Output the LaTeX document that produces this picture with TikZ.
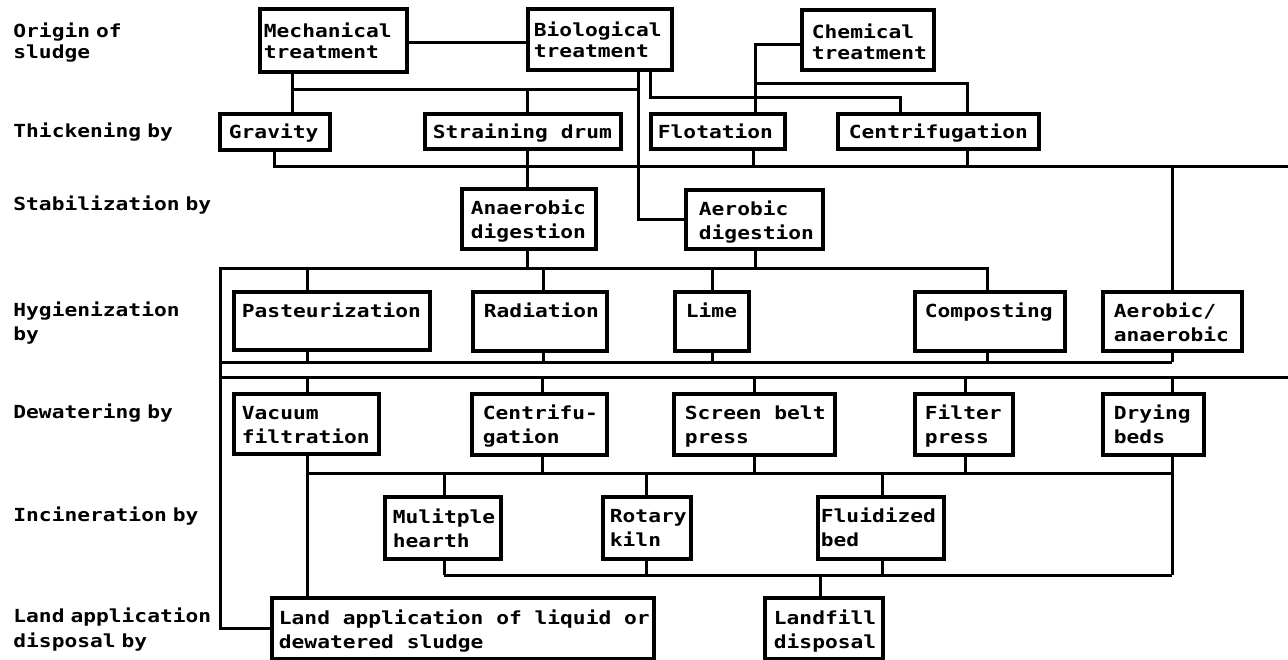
\documentclass[tikz,border=0pt]{standalone}
\usepackage{fontspec}
\newfontfamily\tw{DejaVu Sans Mono}[FakeStretch=1.18]

% box geometry keys: first baseline below the top, left padding, line pitch
\pgfkeys{/bx/.cd,
  t/.store in=\bxT,
  pad/.store in=\bxpad,
  bs/.store in=\bxbs}

\tikzset{
  box/.style={draw, line width=1.9pt, inner sep=0pt, font=\tw\bfseries\fontsize{9}{12}\selectfont},
  wire/.style={line width=1.5pt, line join=miter},
  lbl/.style={anchor=base west, inner sep=0pt, text width=110pt, align=left,
              font=\tw\bfseries\fontsize{9}{12}\selectfont}
}

% \bx[keys]{name}{x1}{y1}{x2}{y2}{text}: a box with its corners in pixel units
\newcommand\bx[7][]{%
  \pgfkeys{/bx/.cd, t=13pt, pad=4.5pt, bs=12pt, #1}%
  \pgfmathsetlengthmacro\bxw{(#5-#3)*0.5pt}%
  \pgfmathsetlengthmacro\bxh{(#6-#4)*0.5pt}%
  \node[box, anchor=north west] (#2) at (#3,#4)
    {\vbox to \bxh{\hsize=\bxw\relax\leftskip=\bxpad\relax
      \rightskip=0pt plus 1fil\relax\parindent=0pt\relax
      \parfillskip=0pt plus 1fil\relax\baselineskip=\bxbs\relax
      \let\\\par\rule{0pt}{\bxT}#7\par\vss}};%
}

\begin{document}
\begin{tikzpicture}[x=0.5pt, y=-0.5pt]
\path[fill=white, use as bounding box] (0,0) rectangle (1288,659);

% ---- row captions
\node[lbl, font=\tw\bfseries\fontsize{9}{10.5}\selectfont] (capOrigin) at (13,37) {Origin of\\sludge};
\node[lbl] (capThick) at (13,137) {Thickening by};
\node[lbl] (capStab) at (13,210) {Stabilization by};
\node[lbl] (capHyg) at (13,316) {Hygienization\\by};
\node[lbl] (capDew) at (13,418) {Dewatering by};
\node[lbl] (capInc) at (13,521) {Incineration by};
\node[lbl, font=\tw\bfseries\fontsize{9}{12.5}\selectfont] (capLand) at (13,622) {Land application\\disposal by};

% ---- origin of sludge
\bx[t=14.25pt,bs=10.5pt,pad=2pt]{mech}{258}{7}{405}{70}{Mechanical\\treatment}
\bx[t=14pt,bs=10.5pt,pad=3pt]{bio}{526}{7}{670}{68}{Biological\\treatment}
\bx[t=14.5pt,bs=10.5pt,pad=5pt]{chem}{800}{8}{932}{68}{Chemical\\treatment}

% ---- thickening
\bx[t=12.5pt,pad=4.5pt]{grav}{218}{112}{328}{148}{Gravity}
\bx[t=12.5pt,pad=4pt]{strain}{423}{112}{619}{147}{Straining drum}
\bx[t=12.5pt,pad=3.5pt]{flot}{649}{112}{783}{147}{Flotation}
\bx[t=12.5pt,pad=5.5pt]{cenT}{836}{112}{1037}{147}{Centrifugation}

% ---- stabilization
\bx[pad=4.5pt]{anaer}{460}{187}{594}{247}{Anaerobic\\digestion}
\bx[pad=6.5pt]{aer}{684}{188}{821}{247}{Aerobic\\digestion}

% ---- hygienization
\bx[pad=4pt]{past}{232}{290}{428}{348}{Pasteurization}
\bx[pad=5.5pt]{rad}{471}{290}{605}{349}{Radiation}
\bx[pad=5.5pt]{lime}{673}{290}{747}{349}{Lime}
\bx[pad=5pt]{comp}{913}{290}{1063}{349}{Composting}
\bx[pad=5.5pt]{aeran}{1101}{290}{1240}{349}{Aerobic/\\anaerobic}

% ---- dewatering
\bx[pad=4pt]{vac}{232}{392}{377}{452}{Vacuum\\filtration}
\bx[pad=5.5pt]{cenD}{470}{392}{605}{453}{Centrifu-\\gation}
\bx[pad=5.5pt]{sbp}{672}{392}{833}{453}{Screen belt\\press}
\bx[pad=5pt]{fp}{913}{392}{1011}{453}{Filter\\press}
\bx[pad=5.5pt]{dry}{1101}{392}{1202}{453}{Drying\\beds}

% ---- incineration
\bx[t=13.5pt,pad=4pt]{mh}{383}{495}{499}{557}{Mulitple\\hearth}
\bx[pad=3.5pt]{rk}{601}{495}{689}{557}{Rotary\\kiln}
\bx[pad=1.5pt]{fb}{816}{495}{942}{557}{Fluidized\\bed}

% ---- land application / disposal
\bx[t=13.5pt,pad=3.5pt]{landapp}{270}{596}{652}{657}{Land application of liquid or\\dewatered sludge}
\bx[t=13.5pt,pad=4.5pt]{lf}{763}{596}{881}{657}{Landfill\\disposal}

% ---- junction points and bus ends
\coordinate (jA) at (292,89);
\coordinate (busA) at (1288,166);
\coordinate (trunk) at (220,268);
\coordinate (hb) at (220,362);
\coordinate (db) at (220,377);
\coordinate (busB) at (1288,377);
\coordinate (ib) at (307,473);
\coordinate (lb) at (444,575);

% origin -> thickening
\draw[wire] ([yshift=-1.25pt]mech.east) -- ([yshift=-1.25pt]mech.east -| bio.west);
\draw[wire] (mech.south -| jA) -- (grav.north -| jA);
\draw[wire] (jA) -- (jA -| 638,0);
\draw[wire] (strain.north -| 527,0) -- (jA -| 527,0);
\draw[wire] (bio.south -| 638,0) |- (aer.west);
\draw[wire] (bio.south -| 650,0) -- (650,97) -| (cenT.north -| 900,0);
\draw[wire] ([yshift=-2.5pt]chem.west) -| (flot.north -| 755,0);
\draw[wire] (755,83) -| (cenT.north -| 967,0);

% thickening -> stabilization
\draw[wire] (grav.south -| 274,0) |- (busA);
\draw[wire] (strain.south -| 527,0) -- (anaer.north -| 527,0);
\draw[wire] (flot.south -| 753,0) -- (busA -| 753,0);
\draw[wire] (cenT.south -| 967,0) -- (busA -| 967,0);
\draw[wire] (busA -| 1172,0) -- (aeran.north -| 1172,0);

% stabilization -> hygienization, with the trunk down to land application
\draw[wire] (anaer.south -| 527,0) -- (trunk -| 527,0);
\draw[wire] (aer.south -| 755,0) -- (trunk -| 755,0);
\draw[wire] (comp.north -| 987,0) |- (trunk) |- (landapp.west);
\foreach \n/\x in {past/307, rad/543, lime/712}
  \draw[wire] (trunk -| \x,0) -- (\n.north -| \x,0);

% hygienization -> dewatering
\draw[wire] (hb) -- (hb -| 1172,0);
\foreach \n/\x in {past/307, rad/543, lime/712, comp/987, aeran/1172}
  \draw[wire] (\n.south -| \x,0) -- (hb -| \x,0);
\draw[wire] (db) -- (busB);
\foreach \n/\x in {vac/307, cenD/542, sbp/754, fp/965, dry/1172}
  \draw[wire] (db -| \x,0) -- (\n.north -| \x,0);

% dewatering -> incineration / land application
\draw[wire] (vac.south -| 307,0) -- (landapp.north -| 307,0);
\draw[wire] (ib) -- (ib -| 1172,0);
\foreach \n/\x in {cenD/542, sbp/754, fp/965}
  \draw[wire] (\n.south -| \x,0) -- (ib -| \x,0);
\draw[wire] (dry.south -| 1172,0) -- (lb -| 1172,0);
\foreach \n/\x in {mh/444, rk/646, fb/882}
  \draw[wire] (ib -| \x,0) -- (\n.north -| \x,0);

% incineration -> landfill
\draw[wire] (lb) -- (lb -| 1172,0);
\foreach \n/\x in {mh/444, rk/646, fb/882}
  \draw[wire] (\n.south -| \x,0) -- (lb -| \x,0);
\draw[wire] (lb -| 820,0) -- (lf.north -| 820,0);
\end{tikzpicture}
\end{document}
